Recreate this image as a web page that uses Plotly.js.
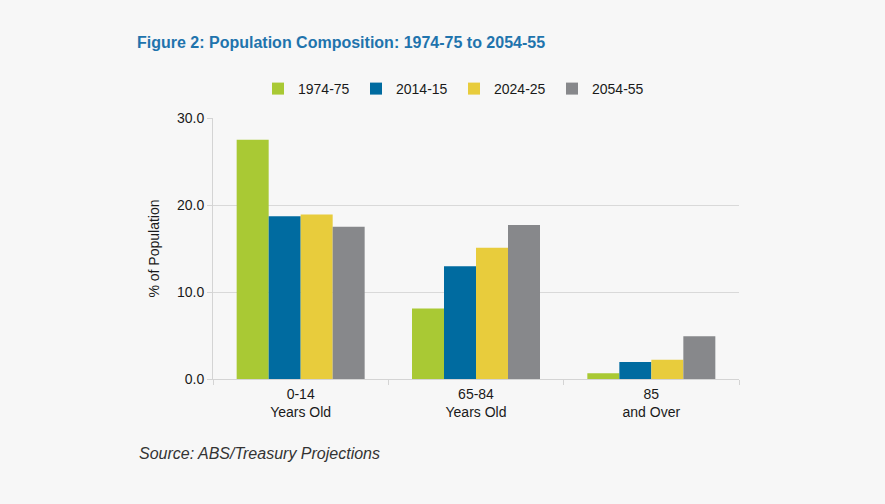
<!DOCTYPE html>
<html>
<head>
<meta charset="utf-8">
<script src="https://cdn.plot.ly/plotly-3.0.1.min.js"></script>
<style>
  html, body { margin: 0; padding: 0; background: #f7f7f7; }
  #chart { width: 885px; height: 504px; }
</style>
</head>
<body>
<div id="chart"></div>
<script>
const categories = ["0-14<br>Years Old", "65-84<br>Years Old", "85<br>and Over"];
const seriesNames = ["1974-75", "2014-15", "2024-25", "2054-55"];
const v1974_75 = [27.5, 8.1, 0.65];
const v2014_15 = [18.7, 12.95, 1.95];
const v2024_25 = [18.9, 15.1, 2.2];
const v2054_55 = [17.5, 17.7, 4.9];
const colors = ["#a9c934", "#006ba0", "#e8cc3c", "#87888b"];

const seriesValues = [v1974_75, v2014_15, v2024_25, v2054_55];
const traces = seriesNames.map((name, i) => ({
  type: "bar",
  name: name,
  x: categories,
  y: seriesValues[i],
  marker: { color: colors[i], line: { width: 0 } },
  hoverinfo: "skip"
}));

const font = "Liberation Sans, Arial, sans-serif";
const layout = {
  width: 885,
  height: 504,
  paper_bgcolor: "#f7f7f7",
  plot_bgcolor: "#f7f7f7",
  margin: { l: 213, r: 146, t: 118, b: 125 },
  barmode: "group",
  bargap: 0.27,
  bargroupgap: 0,
  font: { family: font, size: 14, color: "#1a1a1a" },
  title: {
    text: "<b>Figure 2: Population Composition: 1974-75 to 2054-55</b>",
    font: { family: font, size: 16, color: "#1f74ad" },
    x: 137 / 885,
    xanchor: "left",
    xref: "container",
    y: 1 - 42 / 504,
    yanchor: "middle",
    yref: "container"
  },
  showlegend: true,
  legend: {
    orientation: "h",
    x: (258 - 213) / 526,
    xanchor: "left",
    y: (379 - 89) / 261,
    yanchor: "middle",
    bgcolor: "rgba(0,0,0,0)",
    font: { family: font, size: 14, color: "#1a1a1a" },
    traceorder: "normal",
    itemwidth: 30,
    entrywidth: 53,
    entrywidthmode: "pixels"
  },
  xaxis: {
    type: "category",
    showline: true,
    linecolor: "#d4d4d4",
    linewidth: 1,
    ticks: "outside",
    tickson: "boundaries",
    ticklen: 5,
    tickcolor: "#d4d4d4",
    showgrid: false,
    ticklabelstandoff: 2,
    tickfont: { family: font, size: 14, color: "#1a1a1a" },
    fixedrange: true
  },
  yaxis: {
    range: [0, 30],
    dtick: 10,
    tick0: 0,
    tickformat: ".1f",
    showline: true,
    linecolor: "#d4d4d4",
    linewidth: 1,
    ticks: "outside",
    ticklen: 5,
    tickcolor: "#d4d4d4",
    showgrid: true,
    gridcolor: "#d9d9d9",
    gridwidth: 1,
    zeroline: false,
    tickfont: { family: font, size: 14, color: "#1a1a1a" },
    title: {
      text: "% of Population",
      font: { family: font, size: 14, color: "#1a1a1a" },
      standoff: 14
    },
    fixedrange: true
  },
  annotations: [{
    text: "<i>Source: ABS/Treasury Projections</i>",
    xref: "paper",
    yref: "paper",
    x: (137 - 213) / 526,
    y: (379 - 453) / 261,
    xanchor: "left",
    yanchor: "middle",
    showarrow: false,
    font: { family: font, size: 16, color: "#333333" }
  }]
};

Plotly.newPlot("chart", traces, layout, { displayModeBar: false, staticPlot: true });
</script>
</body>
</html>
